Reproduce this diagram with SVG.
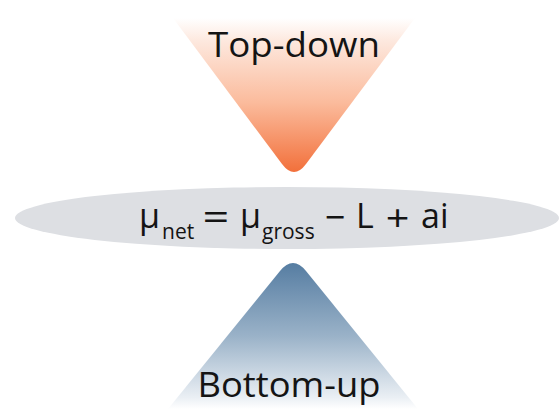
<svg xmlns="http://www.w3.org/2000/svg" width="560" height="409" viewBox="0 0 560 409">
<defs>
<linearGradient id="gTop" x1="0" y1="18" x2="0" y2="172" gradientUnits="userSpaceOnUse">
<stop offset="0" stop-color="#ffffff"/>
<stop offset="0.15" stop-color="#fde8de"/>
<stop offset="0.55" stop-color="#fbbb9c"/>
<stop offset="1" stop-color="#f2703b"/>
</linearGradient>
<linearGradient id="gBot" x1="0" y1="263" x2="0" y2="409" gradientUnits="userSpaceOnUse">
<stop offset="0" stop-color="#567da2"/>
<stop offset="0.5" stop-color="#9ab2c8"/>
<stop offset="0.92" stop-color="#eaeff4"/>
<stop offset="1" stop-color="#ffffff"/>
</linearGradient>
<style>
.lbl{font-family:"Open Sans","DejaVu Sans",sans-serif;fill:#141414}
.op{font-family:"Open Sans","DejaVu Sans",sans-serif;fill:#141414;font-size:36px;text-anchor:middle}
.sub{font-size:21px}
</style>
</defs>
<rect width="560" height="409" fill="#ffffff"/>
<g id="top-down">
<path d="M173,18 L415,18 L306,164 Q294,180 282,164 Z" fill="url(#gTop)"/>
<text class="lbl" x="294" y="57" font-size="34" text-anchor="middle" textLength="172" lengthAdjust="spacingAndGlyphs">Top-down</text>
</g>
<g id="bottom-up">
<path d="M168,409 L418,409 L306,271 Q293,255 280,271 Z" fill="url(#gBot)"/>
<text class="lbl" x="289" y="397" font-size="34" text-anchor="middle" textLength="183" lengthAdjust="spacingAndGlyphs">Bottom-up</text>
</g>
<g id="equation">
<ellipse cx="287" cy="218" rx="272" ry="31" fill="#dddfe3"/>
<text class="lbl" font-size="34">
<tspan x="139" y="228">μ</tspan>
<tspan class="sub" x="162" y="239">net</tspan>
<tspan x="240" y="228">μ</tspan>
<tspan class="sub" x="262" y="239">gross</tspan>
<tspan x="356" y="228">L</tspan>
<tspan x="421" y="228">ai</tspan>
</text>
<text class="op" x="216" y="230" transform="translate(216 0) scale(1.3 1) translate(-216 0)">=</text>
<text class="op" x="335" y="230">−</text>
<text class="op" x="397.5" y="231" transform="translate(397.5 0) scale(1.15 1) translate(-397.5 0)">+</text>
</g>
<g id="connectors"/>
</svg>
